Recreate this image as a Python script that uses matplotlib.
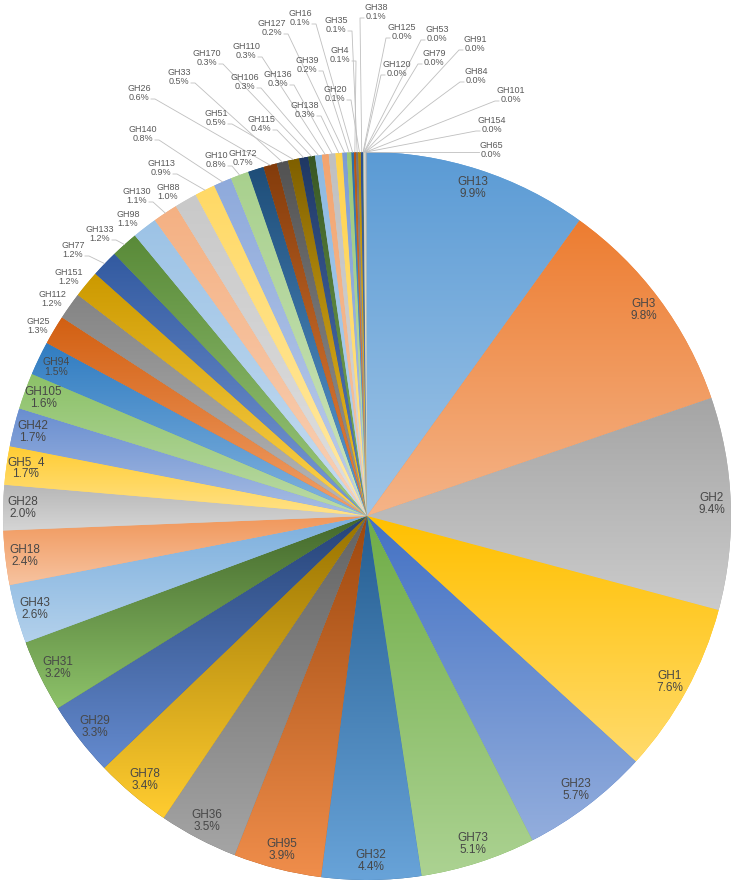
import colorsys
import matplotlib
matplotlib.use("Agg")
import matplotlib.pyplot as plt
from matplotlib.colors import to_rgb
import numpy as np

# slice names and shares (%), clockwise from 12 o'clock
names = ["GH13", "GH3", "GH2", "GH1", "GH23", "GH73", "GH32", "GH95", "GH36", "GH78",
         "GH29", "GH31", "GH43", "GH18", "GH28", "GH5_4", "GH42", "GH105", "GH94", "GH25",
         "GH112", "GH151", "GH77", "GH133", "GH98", "GH130", "GH88", "GH113", "GH140", "GH10",
         "GH172", "GH26", "GH33", "GH51", "GH115", "GH170", "GH106", "GH110", "GH136", "GH138",
         "GH127", "GH39", "GH16", "GH4", "GH35", "GH20", "GH38", "GH125", "GH120", "GH53",
         "GH79", "GH91", "GH84", "GH101", "GH154", "GH65"]
values = [9.9, 9.8, 9.4, 7.6, 5.7, 5.1, 4.4, 3.9, 3.5, 3.4,
          3.3, 3.2, 2.6, 2.4, 2.0, 1.7, 1.7, 1.6, 1.5, 1.3,
          1.2, 1.2, 1.2, 1.2, 1.1, 1.1, 1.0, 0.9, 0.8, 0.8,
          0.7, 0.6, 0.5, 0.5, 0.4, 0.3, 0.3, 0.3, 0.3, 0.3,
          0.2, 0.2, 0.1, 0.1, 0.1, 0.1, 0.1, 0.02, 0.02, 0.02,
          0.02, 0.02, 0.02, 0.02, 0.02, 0.02]

# label layout for the small slices (pixel position of label centre)
outside_pos = {
    "GH25": (38, 326), "GH112": (52, 299), "GH151": (69, 277), "GH77": (73, 250),
    "GH133": (100, 234), "GH98": (128, 219), "GH130": (137, 196), "GH88": (168, 192),
    "GH113": (161, 168), "GH140": (143, 134), "GH10": (216, 160), "GH172": (243, 158),
    "GH26": (139, 93), "GH33": (179, 77), "GH51": (216, 118), "GH115": (261, 124),
    "GH170": (207, 58), "GH106": (245, 82), "GH110": (246, 51), "GH136": (278, 79),
    "GH138": (305, 110), "GH127": (272, 28), "GH39": (307, 65), "GH16": (300, 18),
    "GH4": (340, 55), "GH35": (336, 25), "GH20": (335, 94), "GH38": (376, 12),
    "GH125": (402, 32), "GH120": (397, 69), "GH53": (437, 34), "GH79": (434, 58),
    "GH91": (475, 44), "GH84": (476, 76), "GH101": (511, 95), "GH154": (492, 125),
    "GH65": (491, 150),
}

W, H = 732, 880
CX, CY, R = 367, 516, 364   # pie centre / radius in pixels (y from top)


def Y(y):
    return H - y


accents = ["#5B9BD5", "#ED7D31", "#A5A5A5", "#FFC000", "#4472C4", "#70AD47"]
variants = [(1.0, 0.0), (0.6, 0.0), (0.8, 0.2), (0.8, 0.0), (0.6, 0.4),
            (0.5, 0.0), (0.7, 0.3), (0.7, 0.0), (0.5, 0.5), (1.0, 0.0)]


def lum(c, mod, off):
    h, l, s = colorsys.rgb_to_hls(*to_rgb(c))
    return colorsys.hls_to_rgb(h, min(1, l * mod + off), s)


def lighter(rgb, k=0.42):
    h, l, s = colorsys.rgb_to_hls(*rgb)
    return colorsys.hls_to_rgb(h, l + k * (1 - l), s)


colors = [lum(accents[i % 6], *variants[i // 6]) for i in range(len(values))]

plt.rcParams["font.family"] = ["Liberation Sans", "DejaVu Sans"]
fig = plt.figure(figsize=(W / 100, H / 100), dpi=100)
ax = fig.add_axes([0, 0, 1, 1])

wedges, _ = ax.pie(values, colors=colors, startangle=90, counterclock=False,
                   center=(CX, Y(CY)), radius=R, wedgeprops=dict(linewidth=0))

# vertical gradient inside each slice: base colour at top, lighter at bottom
for w, c in zip(wedges, colors):
    verts = w.get_patch_transform().transform(w.get_path().vertices)
    x0, y0 = verts.min(axis=0)
    x1, y1 = verts.max(axis=0)
    top = np.array(c)
    bot = np.array(lighter(c))
    t = np.linspace(0, 1, 64)[:, None]
    grad = (bot * (1 - t) + top * t)[:, None, :]
    im = ax.imshow(grad, extent=(x0, x1, y0, y1), origin="lower", aspect="auto",
                   interpolation="bilinear", zorder=2)
    im.set_clip_path(w)

total = sum(values)
cum = 0.0
for name, v in zip(names, values):
    mid = np.deg2rad((cum + v / 2) / total * 360)
    cum += v
    txt = f"{name}\n{v:.1f}%"
    if name not in outside_pos:
        lx = CX + 0.947 * R * np.sin(mid)
        ly = CY - 0.947 * R * np.cos(mid)
        fs = 7.5 if name == "GH94" else 8.5
        ax.text(lx, Y(ly), txt, ha="center", va="center", fontsize=fs,
                color="#474747", linespacing=1.0, zorder=5)
        continue
    lx, ly = outside_pos[name]
    ax.text(lx, Y(ly), txt, ha="center", va="center", fontsize=6.5,
            color="#595959", linespacing=1.1, zorder=5)
    ex = CX + R * np.sin(mid)
    ey = CY - R * np.cos(mid)
    if np.hypot(ex - lx, ey - ly) > 22:
        side = 1 if ex > lx else -1
        sx = lx + side * 12
        sy = min(ly + 6, ey)
        ax.plot([sx, sx + side * 4, ex], [Y(sy), Y(sy), Y(ey)],
                color="#bfbfbf", lw=0.6, zorder=4)

ax.set_xlim(0, W)
ax.set_ylim(0, H)
ax.set_aspect("equal")
ax.axis("off")
fig.savefig("out.png", dpi=100)
